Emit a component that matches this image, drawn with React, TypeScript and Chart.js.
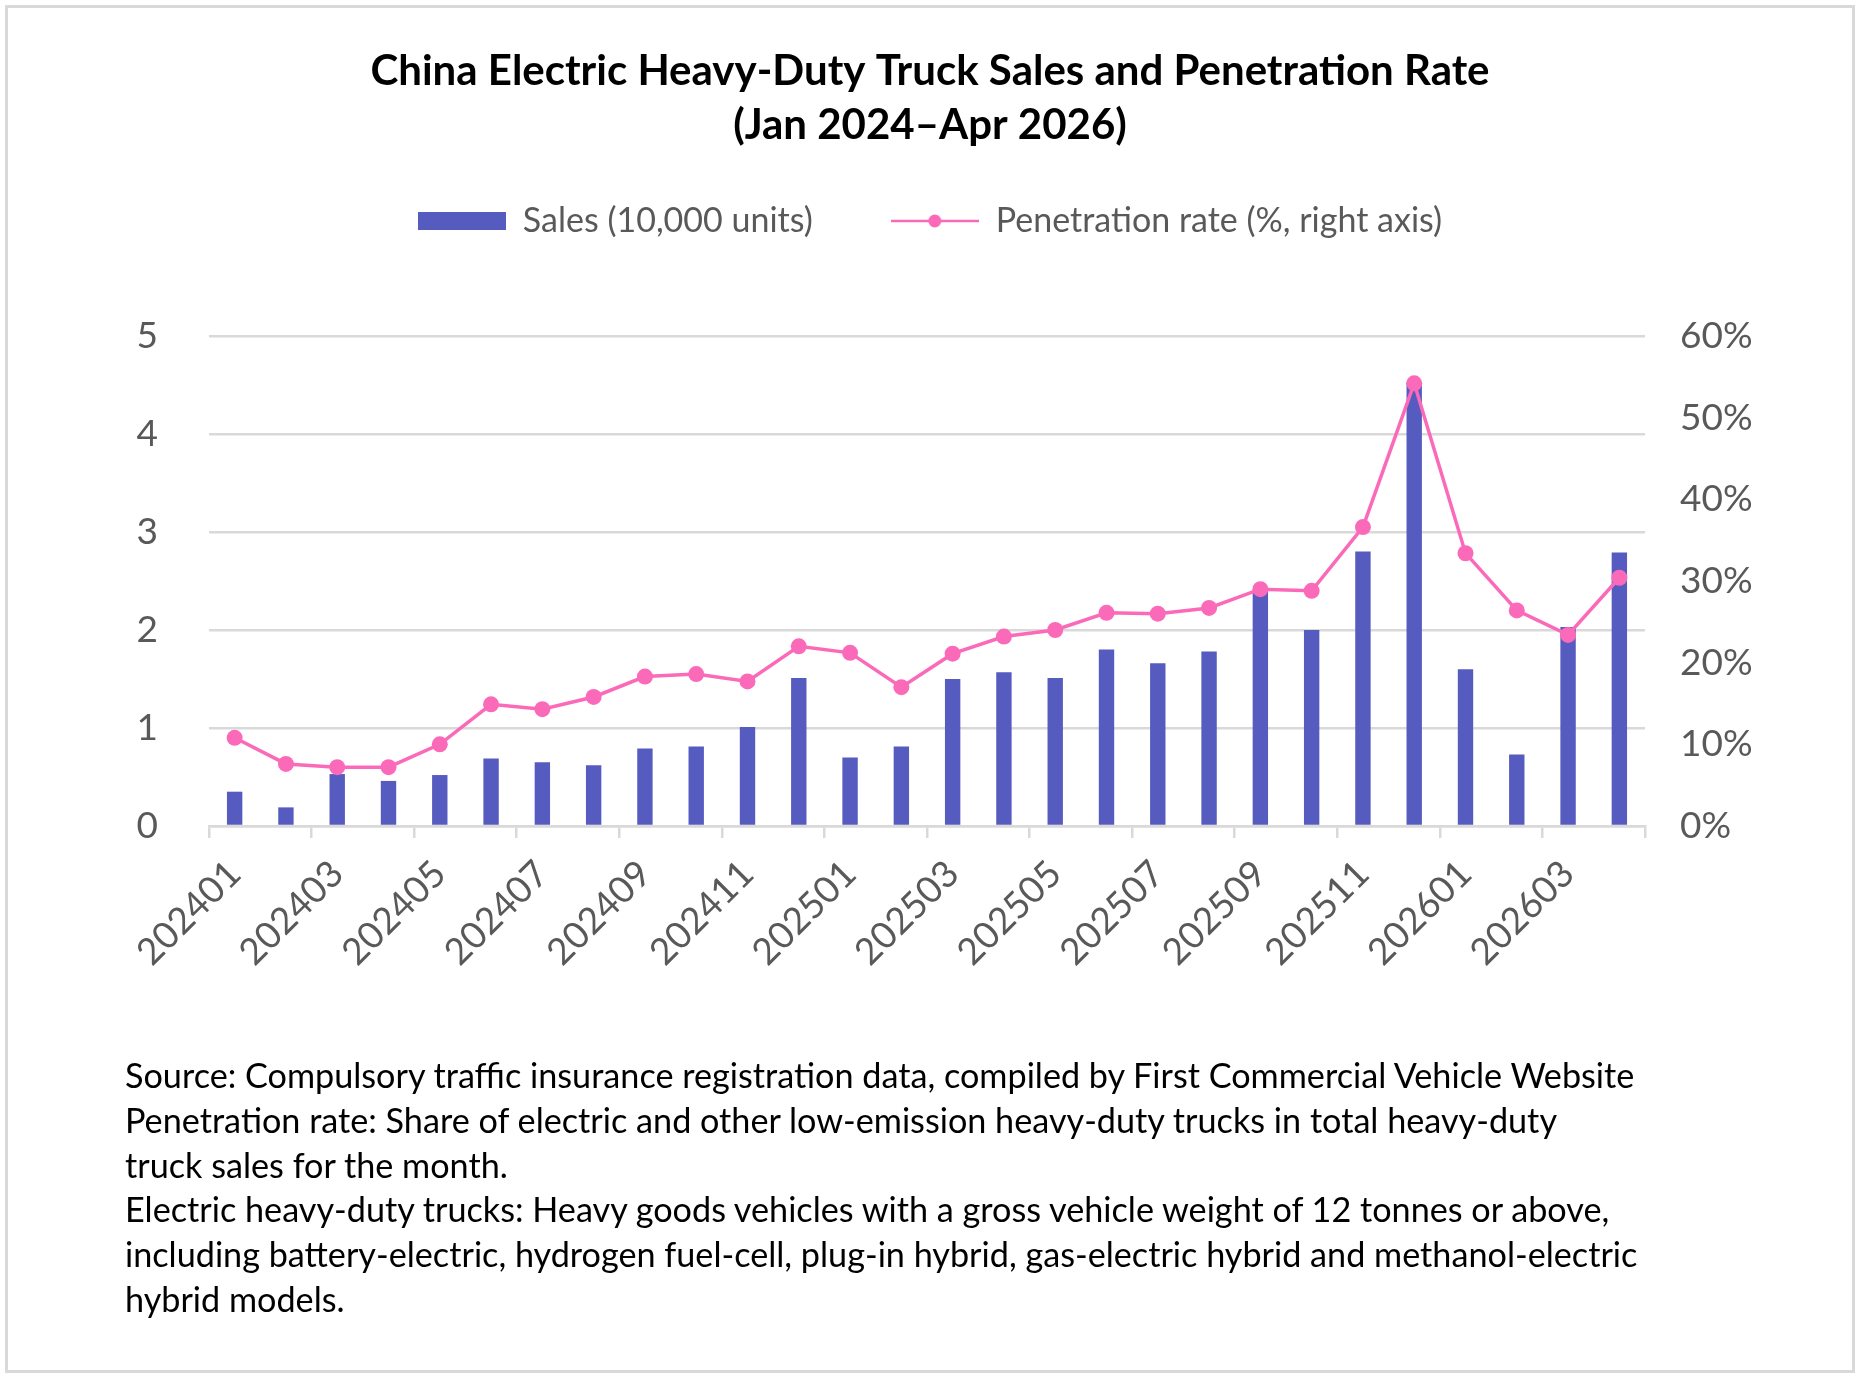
import React, { useEffect, useRef } from 'react';
import { Chart, registerables } from 'chart.js';

Chart.register(...registerables);

const months = [
  '202401', '202402', '202403', '202404', '202405', '202406', '202407',
  '202408', '202409', '202410', '202411', '202412', '202501', '202502',
  '202503', '202504', '202505', '202506', '202507', '202508', '202509',
  '202510', '202511', '202512', '202601', '202602', '202603', '202604',
];

// sales, 10,000 units
const sales = [
  0.35, 0.19, 0.53, 0.46, 0.52, 0.69, 0.65, 0.62, 0.79, 0.81, 1.01, 1.51, 0.7, 0.81,
  1.5, 1.57, 1.51, 1.8, 1.66, 1.78, 2.4, 2.0, 2.8, 4.53, 1.6, 0.73, 2.03, 2.79,
];

// penetration rate, %
const penetration = [
  10.8, 7.6, 7.2, 7.2, 10.0, 14.9, 14.3, 15.8, 18.3, 18.6, 17.7, 22.0, 21.2, 17.0,
  21.1, 23.2, 24.0, 26.1, 26.0, 26.7, 29.0, 28.8, 36.6, 54.2, 33.4, 26.4, 23.4, 30.4,
];

const leftTicks = [0, 1, 2, 3, 4, 5];
const rightTicks = [0, 10, 20, 30, 40, 50, 60];

const BAR = '#565bbf';
const PINK = '#fb6ab9';
const GRID = '#d9d9d9';
const TEXT = '#595959';
const FONT = 'Lato, "Noto Sans", sans-serif';

const notes = [
  'Source: Compulsory traffic insurance registration data, compiled by First Commercial Vehicle Website',
  'Penetration rate: Share of electric and other low-emission heavy-duty trucks in total heavy-duty',
  'truck sales for the month.',
  'Electric heavy-duty trucks: Heavy goods vehicles with a gross vehicle weight of 12 tonnes or above,',
  'including battery-electric, hydrogen fuel-cell, plug-in hybrid, gas-electric hybrid and methanol-electric',
  'hybrid models.',
];

function makeBarSwatch() {
  const c = document.createElement('canvas');
  c.width = 88;
  c.height = 18;
  const g = c.getContext('2d')!;
  g.fillStyle = BAR;
  g.fillRect(0, 0, 88, 18);
  return c;
}

function makeLineSwatch() {
  const c = document.createElement('canvas');
  c.width = 88;
  c.height = 16;
  const g = c.getContext('2d')!;
  g.strokeStyle = PINK;
  g.lineWidth = 2.5;
  g.beginPath();
  g.moveTo(0, 8);
  g.lineTo(88, 8);
  g.stroke();
  g.fillStyle = PINK;
  g.beginPath();
  g.arc(44, 8, 6.5, 0, Math.PI * 2);
  g.fill();
  return c;
}

const App: React.FC = () => {
  const chartRef = useRef<HTMLCanvasElement>(null);

  useEffect(() => {
    document.body.style.margin = '0';
    if (!chartRef.current) return;

    const barSwatch = makeBarSwatch();
    const lineSwatch = makeLineSwatch();

    // extra room between the legend and the plot
    const legendGap = {
      id: 'legendGap',
      beforeInit(chart: any) {
        const fit = chart.legend.fit;
        chart.legend.fit = function () {
          fit.bind(chart.legend)();
          this.height += 88;
        };
      },
    };

    const chart = new Chart(chartRef.current, {
      type: 'bar',
      data: {
        labels: months,
        datasets: [
          {
            type: 'line',
            label: 'Penetration rate (%, right axis)',
            data: penetration,
            yAxisID: 'y1',
            borderColor: PINK,
            backgroundColor: PINK,
            borderWidth: 3.5,
            pointRadius: 8,
            pointBorderWidth: 0,
            pointBackgroundColor: PINK,
            tension: 0,
            order: 0,
          },
          {
            type: 'bar',
            label: 'Sales (10,000 units)',
            data: sales,
            yAxisID: 'y',
            backgroundColor: BAR,
            barPercentage: 0.3,
            categoryPercentage: 1,
            order: 1,
          },
        ],
      },
      options: {
        responsive: true,
        maintainAspectRatio: false,
        animation: false,
        layout: { padding: 0 },
        plugins: {
          title: {
            display: true,
            text: ['China Electric Heavy-Duty Truck Sales and Penetration Rate', '(Jan 2024\u2013Apr 2026)'],
            color: '#000',
            font: { family: FONT, size: 42, weight: 'bold', lineHeight: '54px' },
            padding: { top: 44, bottom: -26 },
          },
          legend: {
            display: true,
            position: 'top',
            labels: {
              usePointStyle: true,
              pointStyleWidth: 88,
              boxHeight: 18,
              padding: 78,
              color: TEXT,
              font: { family: FONT, size: 34 },
              generateLabels: () => [
                {
                  text: 'Sales (10,000 units)',
                  pointStyle: barSwatch,
                  fillStyle: BAR,
                  strokeStyle: BAR,
                  lineWidth: 0,
                  fontColor: TEXT,
                  datasetIndex: 1,
                  hidden: false,
                },
                {
                  text: 'Penetration rate (%, right axis)',
                  pointStyle: lineSwatch,
                  fillStyle: PINK,
                  strokeStyle: PINK,
                  lineWidth: 0,
                  fontColor: TEXT,
                  datasetIndex: 0,
                  hidden: false,
                },
              ],
            },
          },
          tooltip: { enabled: false },
        },
        scales: {
          x: {
            offset: true,
            afterFit: (scale: any) => {
              scale.height = 1375 - 826;
            },
            border: { display: true, color: GRID, width: 2.5 },
            grid: {
              offset: true,
              drawOnChartArea: false,
              drawTicks: true,
              tickLength: 12,
              lineWidth: 2.5,
              color: (c: any) => (c.index === undefined || c.index % 2 === 0 ? GRID : 'rgba(0,0,0,0)'),
            },
            ticks: {
              autoSkip: false,
              maxRotation: 45,
              minRotation: 45,
              padding: 14,
              color: TEXT,
              font: { family: FONT, size: 37 },
              callback: (_v: any, i: number) => (i % 2 === 0 ? months[i] : ''),
            },
          },
          y: {
            position: 'left',
            min: leftTicks[0],
            max: leftTicks[leftTicks.length - 1],
            afterFit: (scale: any) => {
              scale.width = 209;
            },
            afterBuildTicks: (scale: any) => {
              scale.ticks = leftTicks.map((v) => ({ value: v }));
            },
            border: { display: false },
            grid: { color: GRID, lineWidth: 2.5, drawTicks: false },
            ticks: {
              padding: 51,
              color: TEXT,
              font: { family: FONT, size: 37 },
            },
          },
          y1: {
            position: 'right',
            min: rightTicks[0],
            max: rightTicks[rightTicks.length - 1],
            afterFit: (scale: any) => {
              scale.width = 215;
            },
            afterBuildTicks: (scale: any) => {
              scale.ticks = rightTicks.map((v) => ({ value: v }));
            },
            border: { display: false },
            grid: { drawOnChartArea: false, drawTicks: false },
            ticks: {
              padding: 35,
              color: TEXT,
              font: { family: FONT, size: 37 },
              callback: (v: any) => `${v}%`,
            },
          },
        },
      },
      plugins: [legendGap],
    });

    return () => {
      chart.destroy();
    };
  }, []);

  return (
    <div style={{ position: 'relative', width: 1860, height: 1375, background: '#fff', overflow: 'hidden' }}>
      <div
        style={{
          position: 'absolute',
          left: 5,
          top: 5,
          width: 1850,
          height: 1368,
          boxSizing: 'border-box',
          border: `3px solid ${GRID}`,
        }}
      />
      <div style={{ position: 'absolute', left: 0, top: 0, width: 1860, height: 1375 }}>
        <canvas ref={chartRef} />
      </div>
      <div
        style={{
          position: 'absolute',
          left: 125,
          top: 1053,
          fontFamily: FONT,
          fontSize: 34.2,
          lineHeight: '44.8px',
          color: '#000',
          whiteSpace: 'nowrap',
        }}
      >
        {notes.map((n, i) => (
          <div key={i}>{n}</div>
        ))}
      </div>
    </div>
  );
};

export default App;
